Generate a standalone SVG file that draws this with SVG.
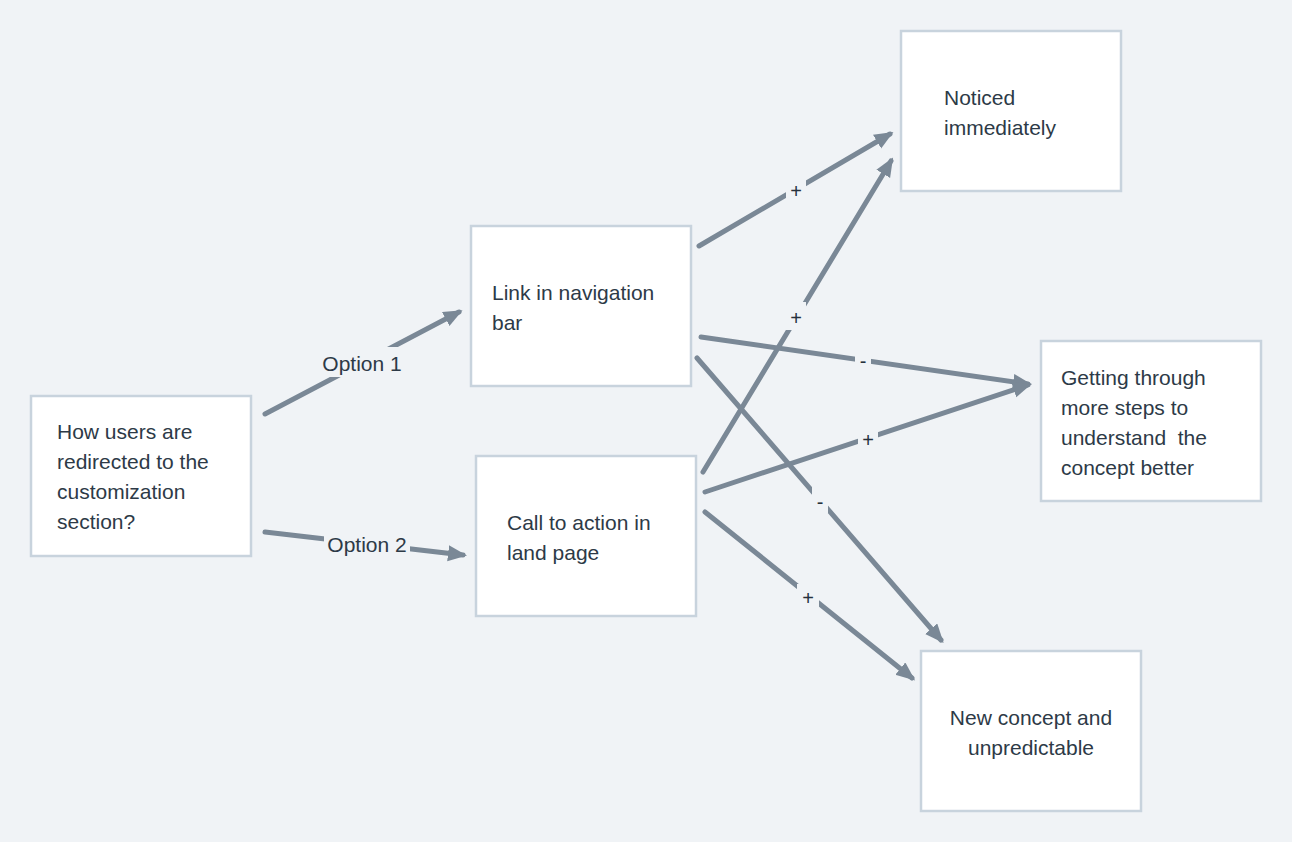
<svg xmlns="http://www.w3.org/2000/svg" width="1292" height="842" viewBox="0 0 1292 842">
<style>
.bg{fill:#f0f3f6}
.box{fill:#ffffff;stroke:#c8d3dd;stroke-width:2.5}
.t{font-family:"Liberation Sans",Arial,sans-serif;font-size:21px;fill:#2d3a47}
.c{stroke:#7a8896;stroke-width:5;stroke-linecap:round;fill:none}
.lb{fill:#f0f3f6}
.lt{font-family:"Liberation Sans",Arial,sans-serif;font-size:21px;fill:#2d3a47;text-anchor:middle}
.st{font-family:"Liberation Sans",Arial,sans-serif;font-size:20px;fill:#26313c;text-anchor:middle}
</style>
<defs>
<marker id="arr" markerUnits="userSpaceOnUse" markerWidth="20" markerHeight="18" refX="15" refY="8" orient="auto">
<path d="M0,0 L19,8 L0,16 z" fill="#7a8896"/>
</marker>
</defs>
<rect class="bg" x="0" y="0" width="1292" height="842"/>
<g id="connectors">
<line class="c" x1="265" y1="414" x2="459" y2="312" marker-end="url(#arr)"/>
<rect class="lb" x="322" y="347" width="80" height="30"/>
<text class="lt" x="362" y="371">Option 1</text>
<line class="c" x1="265" y1="532" x2="463" y2="555" marker-end="url(#arr)"/>
<rect class="lb" x="324" y="529" width="86" height="30"/>
<text class="lt" x="367" y="552">Option 2</text>
<line class="c" x1="699" y1="246" x2="890" y2="134" marker-end="url(#arr)"/>
<rect class="lb" x="786" y="180" width="20" height="20"/>
<text class="st" x="796" y="198">+</text>
<line class="c" x1="703" y1="472" x2="891" y2="161" marker-end="url(#arr)"/>
<rect class="lb" x="786" y="302" width="20" height="28"/>
<text class="st" x="796" y="325">+</text>
<line class="c" x1="701" y1="337" x2="1028" y2="384" marker-end="url(#arr)"/>
<rect class="lb" x="855" y="350" width="16" height="20"/>
<text class="st" x="863" y="368">-</text>
<line class="c" x1="705" y1="492" x2="1028" y2="385" marker-end="url(#arr)"/>
<rect class="lb" x="858" y="428" width="20" height="22"/>
<text class="st" x="868" y="447">+</text>
<line class="c" x1="697" y1="358" x2="941" y2="640" marker-end="url(#arr)"/>
<rect class="lb" x="812" y="487" width="16" height="26"/>
<text class="st" x="820" y="509">-</text>
<line class="c" x1="705" y1="512" x2="912" y2="678" marker-end="url(#arr)"/>
<rect class="lb" x="797" y="584" width="22" height="26"/>
<text class="st" x="808" y="605">+</text>
</g>
<g id="n-question">
<rect class="box" x="31" y="396" width="220" height="160"/>
<text class="t" x="57" y="439">How users are</text>
<text class="t" x="57" y="469">redirected to the</text>
<text class="t" x="57" y="499">customization</text>
<text class="t" x="57" y="529">section?</text>
</g>
<g id="n-link">
<rect class="box" x="471" y="226" width="220" height="160"/>
<text class="t" x="492" y="300">Link in navigation</text>
<text class="t" x="492" y="330">bar</text>
</g>
<g id="n-call">
<rect class="box" x="476" y="456" width="220" height="160"/>
<text class="t" x="507" y="530">Call to action in</text>
<text class="t" x="507" y="560">land page</text>
</g>
<g id="n-noticed">
<rect class="box" x="901" y="31" width="220" height="160"/>
<text class="t" x="944" y="105">Noticed</text>
<text class="t" x="944" y="135">immediately</text>
</g>
<g id="n-steps">
<rect class="box" x="1041" y="341" width="220" height="160"/>
<text class="t" x="1061" y="385">Getting through</text>
<text class="t" x="1061" y="415">more steps to</text>
<text class="t" x="1061" y="445" style="white-space:pre">understand  the</text>
<text class="t" x="1061" y="475">concept better</text>
</g>
<g id="n-new">
<rect class="box" x="921" y="651" width="220" height="160"/>
<text class="t" x="1031" y="725" text-anchor="middle">New concept and</text>
<text class="t" x="1031" y="755" text-anchor="middle">unpredictable</text>
</g>
</svg>
